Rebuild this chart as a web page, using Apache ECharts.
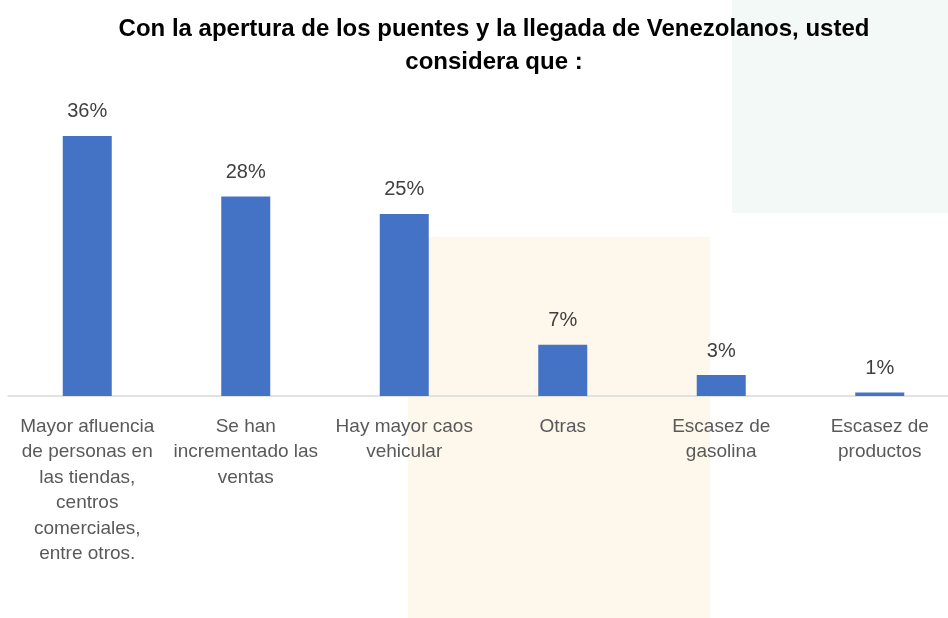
<!DOCTYPE html>
<html>
<head>
<meta charset="utf-8">
<script src="https://cdn.jsdelivr.net/npm/echarts@6/dist/echarts.min.js"></script>
<style>
  html, body { margin: 0; padding: 0; background: #ffffff; overflow: hidden; }
  /* the plot area runs a little past the right edge, as in the original */
  #chart { width: 960px; height: 618px; }
</style>
</head>
<body>
<div id="chart"></div>
<script>
const categories = [
  'Mayor afluencia\nde personas en\nlas tiendas,\ncentros\ncomerciales,\nentre otros.',
  'Se han\nincrementado las\nventas',
  'Hay mayor caos\nvehicular',
  'Otras',
  'Escasez de\ngasolina',
  'Escasez de\nproductos'
]
const values = [36, 27.6, 25.2, 7.1, 2.9, 0.5]
const valueLabels = ['36%', '28%', '25%', '7%', '3%', '1%']

const chart = echarts.init(document.getElementById('chart'), null, { renderer: 'canvas' })

chart.setOption({
  backgroundColor: '#ffffff',
  animation: false,
  graphic: [
    { type: 'rect', z: -10, shape: { x: 732, y: 0, width: 228, height: 213 }, style: { fill: '#f2f9f6' } },
    { type: 'rect', z: -10, shape: { x: 408, y: 237, width: 302, height: 381 }, style: { fill: '#fef8ec' } }
  ],
  title: {
    text: 'Con la apertura de los puentes y la llegada de Venezolanos, usted\nconsidera que :',
    left: 489,
    textAlign: 'center',
    top: 8,
    textStyle: { fontFamily: 'Liberation Sans', fontSize: 24, fontWeight: 'bold', color: '#000000', lineHeight: 33 }
  },
  grid: { left: 8, width: 951, top: 107, bottom: 222 },
  xAxis: {
    type: 'category',
    data: categories,
    axisLine: { lineStyle: { color: '#d9d9d9', width: 1.5 } },
    axisTick: { show: false },
    axisLabel: {
      interval: 0,
      margin: 18,
      fontFamily: 'Liberation Sans',
      fontSize: 19,
      lineHeight: 25.5,
      color: '#595959',
      align: 'center'
    }
  },
  yAxis: {
    type: 'value',
    min: 0,
    max: 40,
    show: false
  },
  series: [{
    type: 'bar',
    barWidth: 49,
    data: values,
    itemStyle: { color: '#4472c4' },
    label: {
      show: true,
      position: 'top',
      distance: 14,
      fontFamily: 'Liberation Sans',
      fontSize: 20,
      color: '#404040',
      formatter: (p) => valueLabels[p.dataIndex]
    }
  }]
})
</script>
</body>
</html>
